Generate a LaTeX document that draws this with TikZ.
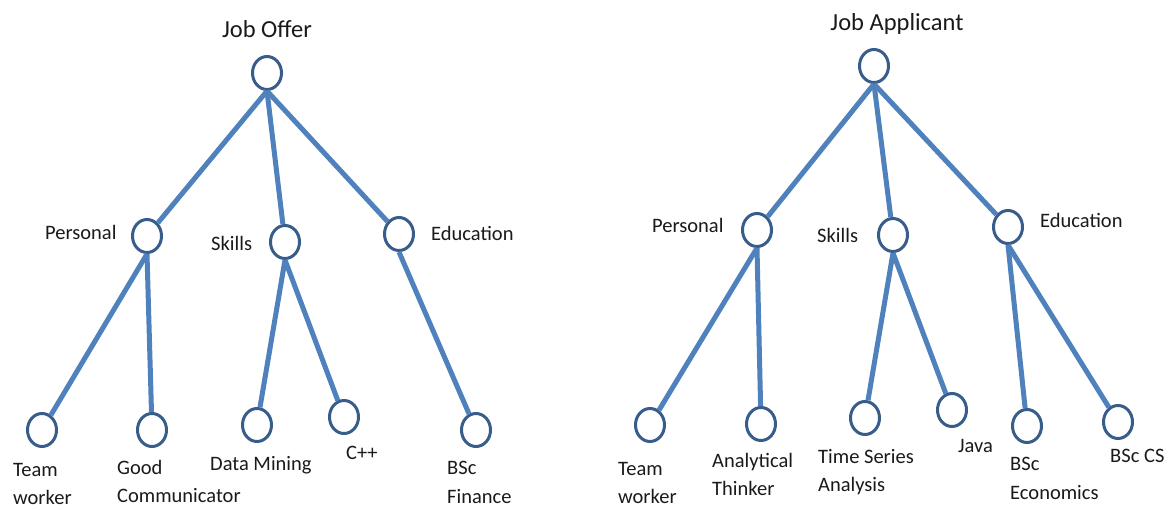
\documentclass[tikz,border=0pt]{standalone}
\usepackage{fontspec}
\setmainfont{Carlito}
\usetikzlibrary{shapes.geometric}
\definecolor{linkblue}{HTML}{4F81BD}
\definecolor{ringblue}{HTML}{385D8A}
\definecolor{inkgray}{HTML}{1A1A1A}
\begin{document}
\begin{tikzpicture}[x=1pt,y=-1pt,
  treenode/.style={ellipse,draw=ringblue,line width=3pt,fill=white,minimum width=29pt,minimum height=33pt,inner sep=0pt},
  link/.style={draw=linkblue,line width=5pt},
  lbl/.style={font=\fontsize{20.5}{28.5}\selectfont,inner sep=0pt,text=inkgray,align=left},
  ttl/.style={font=\fontsize{24.5}{29}\selectfont,inner sep=0pt,text=inkgray}]
\useasboundingbox[fill=white] (0,0) rectangle (1173,510);

% ---------- left tree: Job Offer ----------
\node[treenode] (oroot) at (267,73) {};
\node[treenode] (opers) at (147,236) {};
\node[treenode] (oskil) at (285,242) {};
\node[treenode] (oeduc) at (399,234) {};
\node[treenode] (otw)   at (42,430) {};
\node[treenode] (ogc)   at (152,430) {};
\node[treenode] (odm)   at (257,425) {};
\node[treenode] (ocpp)  at (344,417) {};
\node[treenode] (obf)   at (476,430) {};

\node[ttl,anchor=base] (toffer) at (267,38) {Job Offer};
\node[lbl,anchor=base west] (lopers) at (45,240) {Personal};
\node[lbl,anchor=base west] (loskil) at (211,251) {Skills};
\node[lbl,anchor=base west] (loeduc) at (431,241) {Education};
\node[lbl,anchor=north west] (lotw) at (13,463) {Team\\worker};
\node[lbl,anchor=north west] (logc) at (117,460) {Good\\Communicator};
\node[lbl,anchor=base west] (lodm) at (210,471) {Data Mining};
\node[lbl,anchor=base west] (locpp) at (346,460) {C++};
\node[lbl,anchor=north west] (lobf) at (447,461) {BSc\\Finance};

% ---------- right tree: Job Applicant ----------
\node[treenode] (aroot) at (874,66) {};
\node[treenode] (apers) at (757,230) {};
\node[treenode] (askil) at (893,235) {};
\node[treenode] (aeduc) at (1008,227) {};
\node[treenode] (atw)   at (650,425) {};
\node[treenode] (aat)   at (761,424) {};
\node[treenode] (ats)   at (865,418) {};
\node[treenode] (ajava) at (952,410) {};
\node[treenode] (abe)   at (1027,426) {};
\node[treenode] (abcs)  at (1118,422) {};

\node[ttl,anchor=base] (tappl) at (897,31) {Job Applicant};
\node[lbl,anchor=base west] (lapers) at (652,233) {Personal};
\node[lbl,anchor=base west] (laskil) at (817,243) {Skills};
\node[lbl,anchor=base west] (laeduc) at (1040,228) {Education};
\node[lbl,anchor=north west] (latw) at (618,462) {Team\\worker};
\node[lbl,anchor=north west] (laat) at (712,453) {Analytical\\Thinker};
\node[lbl,anchor=north west] (lats) at (818,449) {Time Series\\Analysis};
\node[lbl,anchor=base west] (lajava) at (958,453) {Java};
\node[lbl,anchor=north west] (labe) at (1010,457) {BSc\\Economics};
\node[lbl,anchor=base west] (labcs) at (1110,463) {BSc CS};

% ---------- connectors ----------
\path[link] (oroot.south) -- (opers);
\path[link] (oroot.south) -- (oskil);
\path[link] (oroot.south) -- (oeduc);
\path[link] (opers.south) -- (otw);
\path[link] (opers.south) -- (ogc);
\path[link] (oskil.south) -- (odm);
\path[link] (oskil.south) -- (ocpp);
\path[link] (oeduc.south) -- (obf);

\path[link] (aroot.south) -- (apers);
\path[link] (aroot.south) -- (askil);
\path[link] (aroot.south) -- (aeduc);
\path[link] (apers.south) -- (atw);
\path[link] (apers.south) -- (aat);
\path[link] (askil.south) -- (ats);
\path[link] (askil.south) -- (ajava);
\path[link] (aeduc.south) -- (abe);
\path[link] (aeduc.south) -- (abcs);
\end{tikzpicture}
\end{document}
